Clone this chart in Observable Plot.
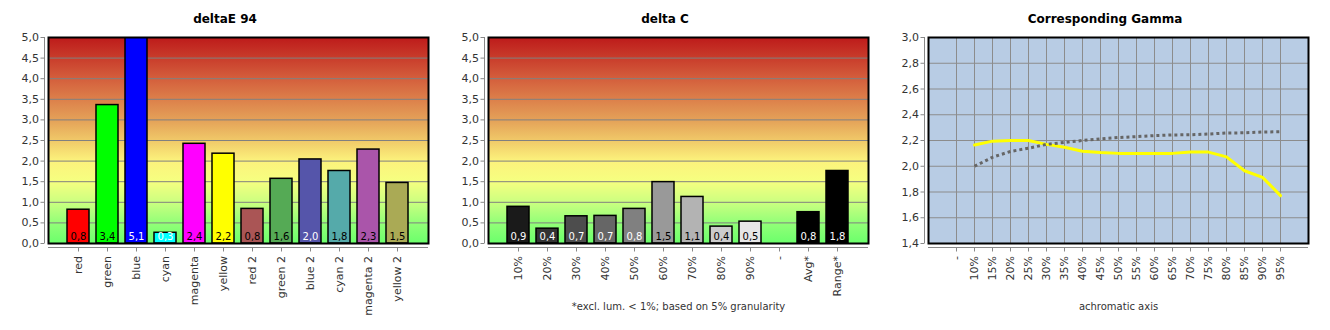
<!DOCTYPE html>
<html><head><meta charset="utf-8">
<script src="https://cdn.jsdelivr.net/npm/d3@7"></script>
<script src="https://cdn.jsdelivr.net/npm/@observablehq/plot@0.6"></script>
<style>
body{margin:0;background:#fff;font-family:"DejaVu Sans",sans-serif;}
#root{position:relative;width:1330px;height:330px;overflow:hidden;background:#fff}
.panel{position:absolute;top:0;width:440px;height:330px}
.title{position:absolute;top:12px;left:10px;width:430px;text-align:center;font:bold 12px "DejaVu Sans",sans-serif;color:#000;line-height:14px}
.panel svg{position:absolute;top:30px;left:0}
</style></head>
<body><div id="root"></div>
<script>
// ---- data ----
const deCategories = ["red","green","blue","cyan","magenta","yellow","red 2","green 2","blue 2","cyan 2","magenta 2","yellow 2"];
const deValues = [0.82,3.36,5.1,0.26,2.42,2.18,0.84,1.57,2.04,1.76,2.28,1.47];
const deTicks = [0,0.5,1,1.5,2,2.5,3,3.5,4,4.5,5];

const dcCategories = ["10%","20%","30%","40%","50%","60%","70%","80%","90%","-","Avg*","Range*"];
const dcValues = [0.89,0.36,0.66,0.67,0.84,1.49,1.13,0.41,0.53,null,0.76,1.76];
const dcNote = "*excl. lum. < 1%; based on 5% granularity";

const gammaCategories = ["-","10%","15%","20%","25%","30%","35%","40%","45%","50%","55%","60%","65%","70%","75%","80%","85%","90%","95%"];
const gammaMeasured = [null,2.165,2.195,2.2,2.2,2.17,2.147,2.117,2.106,2.1,2.1,2.1,2.1,2.11,2.11,2.073,1.965,1.914,1.772];
const gammaReference = [null,2.0,2.07,2.115,2.14,2.17,2.185,2.2,2.213,2.223,2.23,2.238,2.243,2.245,2.25,2.258,2.26,2.266,2.268];
const gammaTicks = [1.4,1.6,1.8,2.0,2.2,2.4,2.6,2.8,3.0];
const gammaLabel = "achromatic axis";

// ---- styles ----
const deColors = ["#ff0000","#00ff00","#0000ff","#00ffff","#ff00ff","#ffff00","#aa5555","#55aa55","#5555aa","#55aaaa","#aa55aa","#aaaa55"];
const deTextColors = ["#000","#000","#fff","#fff","#000","#000","#000","#000","#fff","#000","#000","#000"];
const dcColors = ["#1a1a1a","#333333","#4d4d4d","#666666","#808080","#999999","#b3b3b3","#cccccc","#e6e6e6","#000000","#000000","#000000"];
const dcTextColors = ["#fff","#fff","#fff","#fff","#fff","#000","#000","#000","#000","#fff","#fff","#fff"];
const gradStops = [[0,"#bd1a1a"],[0.2,"#d45e3c"],[0.4,"#e4a058"],[0.5,"#f0c868"],[0.6,"#fcf27c"],[0.7,"#f6ff80"],[0.8,"#ccff80"],[0.9,"#94ff78"],[1,"#6cff6c"]];

const fmt = v => v.toFixed(1).replace(".", ",");
const W = 440, H = 300;
const M = {marginLeft: 48, marginRight: 12, marginTop: 7, marginBottom: 87};

function background(id, fill) {
  return (index, scales, values, d) => {
    const g = d3.create("svg:g");
    if (!fill) {
      const grad = g.append("defs").append("linearGradient").attr("id", id)
        .attr("x1", 0).attr("x2", 0).attr("y1", 0).attr("y2", 1);
      gradStops.forEach(([o, c]) => grad.append("stop").attr("offset", o).attr("stop-color", c));
    }
    g.append("rect").attr("x", d.marginLeft).attr("y", d.marginTop)
      .attr("width", d.width - d.marginLeft - d.marginRight)
      .attr("height", d.height - d.marginTop - d.marginBottom)
      .attr("fill", fill || `url(#${id})`);
    return g.node();
  };
}
function axisLines(index, scales, values, d) {
  const g = d3.create("svg:g").attr("stroke", "#888").attr("fill", "none").attr("stroke-width", 1);
  const l = d.marginLeft, r = d.width - d.marginRight, t = d.marginTop, b = d.height - d.marginBottom;
  g.append("path").attr("d", `M${l - 3.5},${t}V${b}`);
  g.append("path").attr("d", `M${l},${b + 4.5}H${r}`);
  return g.node();
}

function barPanel(cats, vals, colors, textColors, id, note) {
  const data = cats.map((c, i) => ({cat: c, value: vals[i], color: colors[i], tc: textColors[i]}));
  const marks = [
    background(id),
    Plot.gridY(deTicks, {stroke: "#808080", strokeOpacity: 1}),
    Plot.barY(data.filter(d => d.value != null), {x: "cat", y: "value", fill: "color", stroke: "#000", strokeWidth: 1.5, clip: true}),
    Plot.text(data.filter(d => d.value != null), {x: "cat", y: 0, text: d => fmt(d.value), fill: "tc", dy: -7, fontSize: 10}),
    Plot.frame({stroke: "#000", strokeWidth: 2}),
    axisLines,
    Plot.axisY(deTicks, {tickSize: 4, tickPadding: 2, dx: -3.5, tickFormat: fmt, fontSize: 11, fill: "#333", stroke: "#888", label: null}),
    Plot.axisX({tickSize: 4, tickPadding: 4, dy: 4.5, tickRotate: -90, fontSize: 11, fill: "#333", stroke: "#888", label: null})
  ];
  if (note) marks.push(Plot.text([note], {text: d => d, frameAnchor: "bottom", dy: 66, fontSize: 10, fill: "#333"}));
  return Plot.plot({
    width: W, height: H, ...M,
    style: {fontFamily: "DejaVu Sans, sans-serif", background: "transparent", overflow: "visible"},
    x: {domain: cats, paddingInner: 0.24, paddingOuter: 0.65, label: null},
    y: {domain: [0, 5], label: null},
    color: {type: "identity"},
    marks
  });
}

function gammaPanel() {
  const data = gammaCategories.map((c, i) => ({cat: c, m: gammaMeasured[i], r: gammaReference[i]}));
  return Plot.plot({
    width: W, height: H, ...M,
    style: {fontFamily: "DejaVu Sans, sans-serif", background: "transparent", overflow: "visible"},
    x: {type: "point", domain: gammaCategories, padding: 1.43, label: null},
    y: {domain: [1.4, 3.0], label: null},
    marks: [
      background("g3", "#b8cce4"),
      Plot.gridY(gammaTicks, {stroke: "#8c8c8c", strokeOpacity: 1}),
      Plot.gridX({stroke: "#8c8c8c", strokeOpacity: 1}),
      Plot.line(data, {x: "cat", y: "m", stroke: "#ffff00", strokeWidth: 3, strokeLinejoin: "miter"}),
      Plot.line(data, {x: "cat", y: "r", stroke: "#666", strokeWidth: 3, strokeDasharray: "3,3", strokeLinecap: "butt"}),
      Plot.frame({stroke: "#000", strokeWidth: 2}),
      axisLines,
      Plot.axisY(gammaTicks, {tickSize: 4, tickPadding: 2, dx: -3.5, tickFormat: fmt, fontSize: 11, fill: "#333", stroke: "#888", label: null}),
      Plot.axisX({tickSize: 4, tickPadding: 4, dy: 4.5, tickRotate: -90, fontSize: 11, fill: "#333", stroke: "#888", label: null}),
      Plot.text([gammaLabel], {text: d => d, frameAnchor: "bottom", dy: 66, fontSize: 10, fill: "#333"})
    ]
  });
}

const root = document.getElementById("root");
const panels = [
  ["deltaE 94", barPanel(deCategories, deValues, deColors, deTextColors, "g1", null)],
  ["delta C", barPanel(dcCategories, dcValues, dcColors, dcTextColors, "g2", dcNote)],
  ["Corresponding Gamma", gammaPanel()]
];
panels.forEach(([title, svg], i) => {
  const p = document.createElement("div");
  p.className = "panel";
  p.style.left = (i * 440) + "px";
  const t = document.createElement("div");
  t.className = "title";
  t.textContent = title;
  p.appendChild(t);
  p.appendChild(svg);
  root.appendChild(p);
});
</script>
</body></html>
